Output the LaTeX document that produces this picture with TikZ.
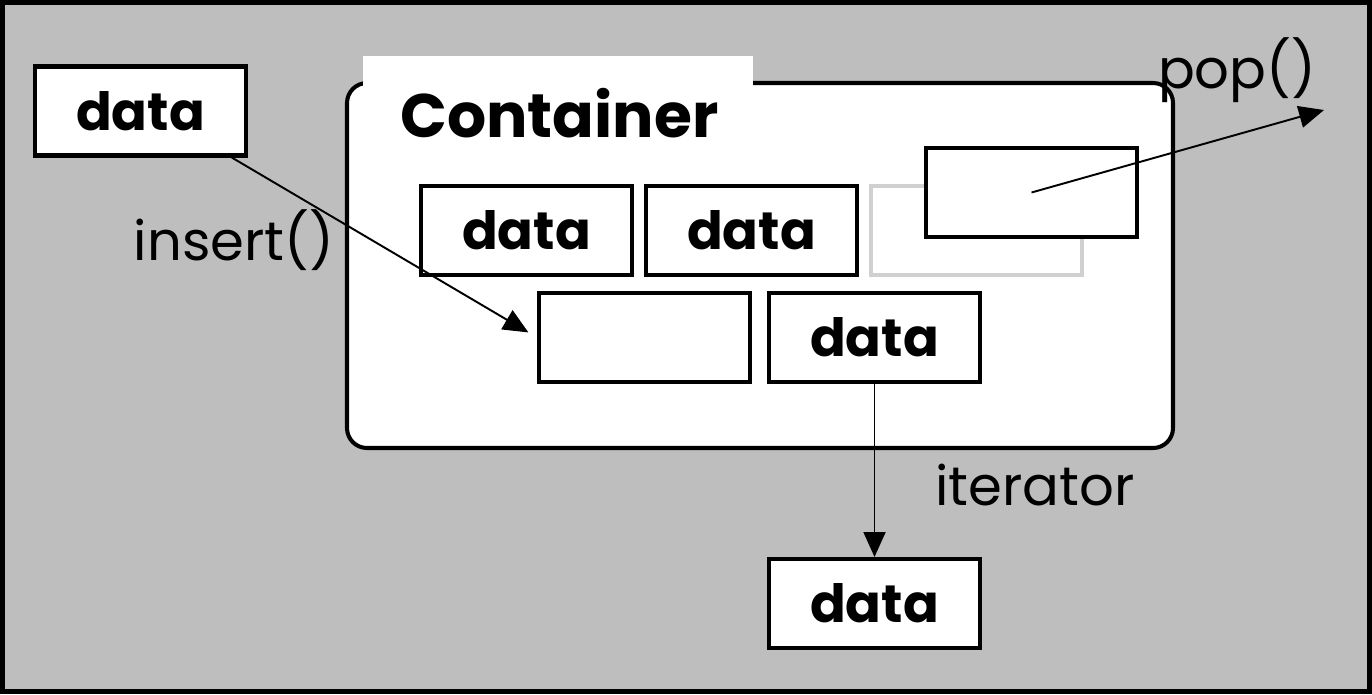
\documentclass[tikz,border=0pt]{standalone}
\usepackage{fontspec}
\setmainfont{Poppins}
\usepackage{tikz}
\usetikzlibrary{arrows.meta,positioning}

\definecolor{bggray}{RGB}{190,190,190}
\definecolor{ghost}{RGB}{208,208,208}

\begin{document}
\begin{tikzpicture}[
  x=0.02cm, y=-0.02cm, >={Triangle[length=5mm,width=4.4mm]},
  node distance=2mm and 2mm,
  databox/.style={draw, line width=2.3pt, fill=white, minimum width=4.22cm,
    minimum height=1.78cm, inner sep=0pt, font=\bfseries\fontsize{30}{30}\selectfont},
  ghostbox/.style={databox, draw=ghost},
  flow/.style={->, line width=1.1pt},
  oplabel/.style={font=\fontsize{31}{31}\selectfont, inner sep=0pt}
]
\useasboundingbox (0,0) rectangle (1372,694);
\fill[bggray] (0,0) rectangle (1372,694);
\draw[line width=2.8pt] (2.5,2.5) rectangle (1369.5,691.5);

% container with its title tab
\draw[line width=2.3pt, fill=white, rounded corners=0.4cm] (347,83) rectangle (1173,448);
\fill[white] (363,56) rectangle (753,100);
\node[anchor=base west, inner sep=0pt, font=\bfseries\fontsize{35}{35}\selectfont]
  (title) at (400,137) {Container};

% elements
\node[databox] (in) at (140.5,111) {data};
\node[databox] (elemA) at (526.5,230.5) {data};
\node[databox, right=of elemA] (elemB) {data};
\node[ghostbox, right=of elemB] (gone) {};
\node[databox] (top) at (1031.5,192.5) {};
\node[databox] (slot) at (644.5,337.5) {};
\node[databox] (elemC) at (874.5,337.5) {data};
\node[databox] (out) at (874.5,603.5) {data};
\coordinate (popend) at (1324,110);

% operations
\draw[flow, shorten >=2mm] (in.-27) -- (slot.west);
\draw[flow] (top.center) -- (popend);
\draw[flow] (elemC) -- (out);
\node[oplabel] (insertlbl) at (234,240) {insert()};
\node[oplabel] (poplbl) at (1237,70) {pop()};
\node[oplabel] (iterlbl) at (1035,485) {iterator};
\end{tikzpicture}
\end{document}
